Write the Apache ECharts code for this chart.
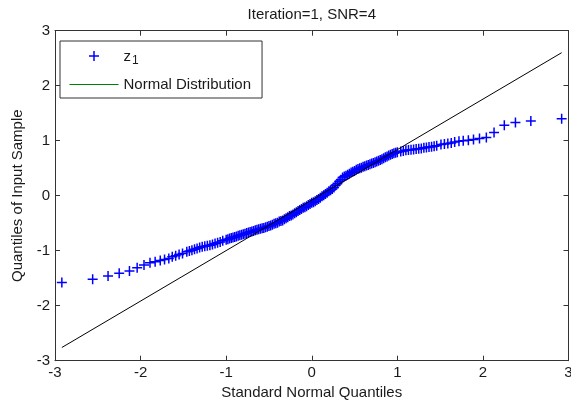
<!DOCTYPE html>
<html>
<head>
<meta charset="utf-8">
<title>Iteration=1, SNR=4</title>
<script src="https://cdn.jsdelivr.net/npm/echarts@6/dist/echarts.min.js"></script>
<style>
  html, body { margin: 0; padding: 0; background: #fff; }
  #chart { width: 571px; height: 402px; }
</style>
</head>
<body>
<div id="chart"></div>
<script>
// x: standard normal quantiles, y: quantiles of input sample
const normalQuantiles = [
  -2.92, -2.56, -2.38, -2.25, -2.13, -2.04, -1.96, -1.89, -1.83, -1.77, -1.72, -1.67, -1.63, -1.59, -1.55, -1.51,
  -1.46, -1.43, -1.40, -1.37, -1.34, -1.31, -1.28, -1.25, -1.22, -1.19, -1.16, -1.13, -1.10, -1.07, -1.04,
  -1.00, -0.98, -0.96, -0.94, -0.92, -0.90, -0.88, -0.86, -0.84, -0.82,
  -0.80, -0.78, -0.76, -0.74, -0.72, -0.70, -0.68, -0.66, -0.64, -0.62,
  -0.60, -0.58, -0.56, -0.54, -0.52, -0.50, -0.48, -0.46, -0.44, -0.42,
  -0.40, -0.38, -0.36, -0.34, -0.32, -0.30, -0.28, -0.26, -0.24, -0.22,
  -0.20, -0.18, -0.16, -0.14, -0.12, -0.10, -0.08, -0.06, -0.04, -0.02,
  0.00, 0.02, 0.04, 0.06, 0.08, 0.10, 0.12, 0.14, 0.16, 0.18,
  0.20, 0.22, 0.24, 0.26, 0.28, 0.30, 0.32, 0.34, 0.36, 0.38,
  0.40, 0.42, 0.44, 0.46, 0.48, 0.50, 0.52, 0.54, 0.56, 0.58,
  0.60, 0.62, 0.64, 0.66, 0.68, 0.70, 0.72, 0.74, 0.76, 0.78,
  0.80, 0.82, 0.84, 0.86, 0.88, 0.90, 0.92, 0.94, 0.96, 0.98,
  1.00,
  1.04, 1.07, 1.10, 1.13, 1.16, 1.19, 1.22, 1.25, 1.28, 1.31, 1.34, 1.37, 1.40, 1.43, 1.46,
  1.51, 1.55, 1.59, 1.63, 1.67, 1.72, 1.77, 1.83, 1.89, 1.96, 2.04, 2.13, 2.25, 2.38, 2.56, 2.92
];
const sampleQuantiles = [
  -1.58, -1.52, -1.46, -1.41, -1.37, -1.31, -1.26, -1.22, -1.20, -1.18, -1.16, -1.14, -1.11, -1.09, -1.07, -1.05,
  -1.02, -1.005, -0.99, -0.975, -0.96, -0.94, -0.93, -0.92, -0.91, -0.90, -0.885, -0.87, -0.855, -0.84, -0.82,
  -0.80, -0.79, -0.78, -0.77, -0.76, -0.75, -0.74, -0.73, -0.72, -0.71,
  -0.70, -0.69, -0.68, -0.67, -0.66, -0.65, -0.64, -0.63, -0.62, -0.61,
  -0.60, -0.59, -0.585, -0.575, -0.565, -0.55, -0.54, -0.53, -0.51, -0.50,
  -0.49, -0.47, -0.46, -0.45, -0.43, -0.41, -0.39, -0.37, -0.36, -0.34,
  -0.32, -0.30, -0.28, -0.26, -0.24, -0.22, -0.21, -0.19, -0.17, -0.15,
  -0.13, -0.12, -0.10, -0.08, -0.06, -0.035, -0.01, 0.01, 0.03, 0.055,
  0.08, 0.10, 0.12, 0.15, 0.19, 0.22, 0.26, 0.29, 0.33, 0.35,
  0.365, 0.38, 0.40, 0.42, 0.435, 0.45, 0.47, 0.485, 0.50, 0.51,
  0.525, 0.535, 0.55, 0.56, 0.57, 0.585, 0.595, 0.61, 0.62, 0.635,
  0.65, 0.665, 0.68, 0.70, 0.715, 0.73, 0.745, 0.76, 0.77, 0.78,
  0.79,
  0.805, 0.815, 0.825, 0.83, 0.835, 0.84, 0.85, 0.855, 0.86, 0.87, 0.875, 0.885, 0.89, 0.90, 0.91,
  0.93, 0.94, 0.95, 0.96, 0.975, 0.99, 1.00, 1.01, 1.02, 1.04, 1.06, 1.15, 1.28, 1.33, 1.36, 1.40
];
// end points of the reference line
const refLineX = [-2.92, 2.92];
const refLineY = [-2.76, 2.60];
const axisTicks = [-3, -2, -1, 0, 1, 2, 3];

const FONT = 'Liberation Sans, Arial, sans-serif';
const AXIS_COLOR = '#333';
const TEXT_COLOR = '#1a1a1a';
// "+" marker, filled path
const PLUS = 'path://M4.25,0h1.5v4.25h4.25v1.5h-4.25v4.25h-1.5v-4.25h-4.25v-1.5h4.25z';

const chart = echarts.init(document.getElementById('chart'));

const boxAxis = (pos, extra) => Object.assign({
  type: 'value',
  position: pos,
  min: axisTicks[0],
  max: axisTicks[axisTicks.length - 1],
  interval: 1,
  axisLine: { show: true, onZero: false, lineStyle: { color: AXIS_COLOR, width: 1 } },
  axisTick: { show: true, inside: true, length: 5, lineStyle: { color: AXIS_COLOR } },
  axisLabel: { show: false },
  splitLine: { show: false }
}, extra);

const labelStyle = { show: true, color: TEXT_COLOR, fontFamily: FONT, fontSize: 15 };

const option = {
  animation: false,
  backgroundColor: '#fff',
  title: {
    text: 'Iteration=1, SNR=4',
    left: '54.6%',
    textAlign: 'center',
    top: 7,
    padding: 0,
    textStyle: { fontFamily: FONT, fontSize: 15, fontWeight: 'normal', color: TEXT_COLOR }
  },
  grid: {
    left: 55, right: 2.5, top: 30.7, bottom: 41.3,
    containLabel: false,
    outerBoundsMode: 'none'
  },
  legend: {
    orient: 'vertical',
    left: 60,
    top: 41,
    padding: [8, 11, 6, 9],
    itemGap: 10,
    itemWidth: 49,
    itemHeight: 10,
    backgroundColor: '#fff',
    borderColor: AXIS_COLOR,
    borderWidth: 1,
    borderRadius: 0,
    selectedMode: false,
    textStyle: {
      fontFamily: FONT, fontSize: 15, color: TEXT_COLOR, lineHeight: 14,
      rich: {
        a: { fontFamily: FONT, fontSize: 15, color: TEXT_COLOR, lineHeight: 14, verticalAlign: 'top' },
        b: { fontFamily: FONT, fontSize: 12, color: TEXT_COLOR, lineHeight: 14, verticalAlign: 'top', padding: [6, 0, 0, 1] }
      }
    },
    formatter: name => name === 'z1' ? '{a|z}{b|1}' : name,
    data: [
      { name: 'z1', icon: PLUS },
      {
        name: 'Normal Distribution',
        itemStyle: { opacity: 0 },
        lineStyle: { color: '#008000', width: 1 }
      }
    ]
  },
  xAxis: [
    boxAxis('bottom', {
      name: 'Standard Normal Quantiles',
      nameLocation: 'middle',
      nameGap: 24,
      nameTextStyle: { fontFamily: FONT, fontSize: 15, color: TEXT_COLOR },
      axisLabel: Object.assign({ margin: 5 }, labelStyle)
    }),
    boxAxis('top')
  ],
  yAxis: [
    boxAxis('left', {
      name: 'Quantiles of Input Sample',
      nameLocation: 'middle',
      nameGap: 29,
      nameTextStyle: { fontFamily: FONT, fontSize: 15, color: TEXT_COLOR },
      axisLabel: Object.assign({ margin: 5 }, labelStyle)
    }),
    boxAxis('right')
  ],
  series: [
    {
      name: 'z1',
      type: 'scatter',
      symbol: PLUS,
      symbolSize: 10,
      symbolKeepAspect: true,
      itemStyle: { color: '#0000ff', opacity: 1 },
      data: normalQuantiles.map((x, i) => [x, sampleQuantiles[i]]),
      z: 2
    },
    {
      name: 'Normal Distribution',
      type: 'line',
      symbol: 'none',
      lineStyle: { color: '#000', width: 1 },
      itemStyle: { color: '#000' },
      data: refLineX.map((x, i) => [x, refLineY[i]]),
      z: 3
    }
  ]
};

chart.setOption(option);
</script>
</body>
</html>
